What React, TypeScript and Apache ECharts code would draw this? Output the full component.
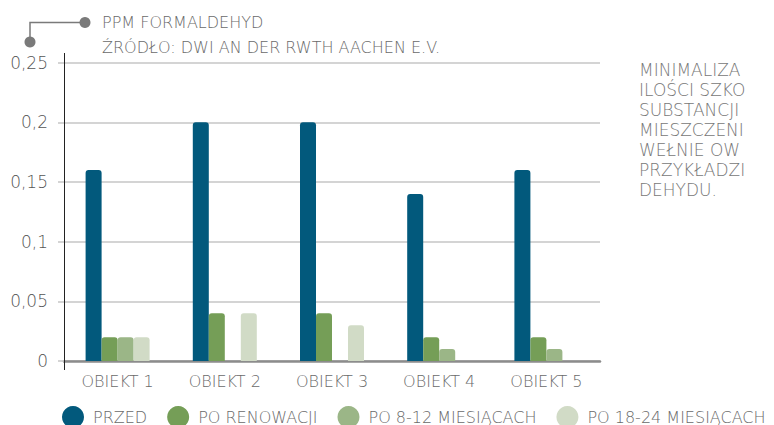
import React, { useEffect, useRef } from "react";
import * as echarts from "echarts";

const categories = ["OBIEKT 1", "OBIEKT 2", "OBIEKT 3", "OBIEKT 4", "OBIEKT 5"];
const seriesNames = ["PRZED", "PO RENOWACJI", "PO 8-12 MIESIĄCACH", "PO 18-24 MIESIĄCACH"];
const przed = [0.16, 0.2, 0.2, 0.14, 0.16];
const poRenowacji = [0.02, 0.04, 0.04, 0.02, 0.02];
const po812 = [0.02, null, null, 0.01, 0.01];
const po1824 = [0.02, 0.04, 0.03, null, null];
const yTickLabels = ["0", "0,05", "0,1", "0,15", "0,2", "0,25"];
const titleLines = ["PPM FORMALDEHYD", "ŹRÓDŁO: DWI AN DER RWTH AACHEN E.V."];
const sideTextLines = [
  "MINIMALIZA",
  "ILOŚCI SZKO",
  "SUBSTANCJI",
  "MIESZCZENI",
  "WEŁNIE OW",
  "PRZYKŁADZI",
  "DEHYDU.",
];

const colors = ["#02597c", "#759e57", "#9bb687", "#d1dbc6"];
const FONT = "'DejaVu Sans', sans-serif";
const W = 300;
const TXT = "#6a6a6a";

const GRID_LEFT = 64;
const GRID_RIGHT_X = 600;
const GRID_TOP = 62.7;
const GRID_BOTTOM_Y = 361;

export default function App() {
  const ref = useRef<HTMLDivElement>(null);
  useEffect(() => {
    if (!ref.current) return;
    const chart = echarts.init(ref.current, undefined, { renderer: "svg" });
    const data = [przed, poRenowacji, po812, po1824];
    chart.setOption({
      animation: false,
      grid: {
        left: GRID_LEFT,
        right: 774 - GRID_RIGHT_X,
        top: GRID_TOP,
        bottom: 425 - GRID_BOTTOM_Y,
        containLabel: false,
      },
      legend: {
        left: 57,
        top: 401,
        icon: "circle",
        itemWidth: 22,
        itemHeight: 22,
        itemGap: 20,
        data: seriesNames,
        textStyle: {
          fontFamily: FONT,
          fontWeight: W,
          fontSize: 16,
          color: TXT,
          padding: [0, 0, 0, 4],
        },
      },
      xAxis: {
        type: "category",
        data: categories,
        axisTick: { show: false },
        axisLine: { show: true, lineStyle: { color: "#8c8c8c", width: 2.5 } },
        axisLabel: {
          margin: 12,
          fontFamily: FONT,
          fontWeight: W,
          fontSize: 16,
          color: TXT,
        },
      },
      yAxis: {
        type: "value",
        min: 0,
        max: 0.25,
        interval: 0.05,
        axisLine: { show: false },
        axisTick: {
          show: true,
          length: 6,
          lineStyle: { color: "#c6c6c6", width: 1.5 },
        },
        splitLine: { show: true, lineStyle: { color: "#c6c6c6", width: 1.5 } },
        axisLabel: {
          margin: 16,
          fontFamily: FONT,
          fontWeight: W,
          fontSize: 17,
          color: "#555",
          formatter: (_v: number, i: number) => yTickLabels[i],
        },
      },
      series: seriesNames.map((name, i) => ({
        name,
        type: "bar",
        data: data[i],
        barWidth: 16,
        barGap: "0%",
        itemStyle: { color: colors[i], borderRadius: [3, 3, 0, 0] },
      })),
      color: colors,
      graphic: [
        {
          type: "line",
          shape: { x1: GRID_LEFT + 0.5, y1: 53, x2: GRID_LEFT + 0.5, y2: 370 },
          style: { stroke: "#222", lineWidth: 1 },
          z: 10,
        },
        {
          type: "polyline",
          shape: { points: [[30, 42], [30, 22.5], [85, 22.5]] },
          style: { stroke: "#7a7a7a", lineWidth: 1.5, fill: "none" },
        },
        { type: "circle", shape: { cx: 30, cy: 42, r: 5.5 }, style: { fill: "#7a7a7a" } },
        { type: "circle", shape: { cx: 85, cy: 22.5, r: 5.5 }, style: { fill: "#7a7a7a" } },
        {
          type: "text",
          x: 102,
          y: 22,
          style: {
            text: titleLines[0],
            fontFamily: FONT,
            fontWeight: W,
            fontSize: 16,
            fill: TXT,
            verticalAlign: "middle",
          },
        },
        {
          type: "text",
          x: 102,
          y: 47,
          style: {
            text: titleLines[1],
            fontFamily: FONT,
            fontWeight: W,
            fontSize: 16,
            fill: TXT,
            verticalAlign: "middle",
          },
        },
        {
          type: "text",
          x: 639,
          y: 60,
          style: {
            text: sideTextLines.join("\n"),
            fontFamily: FONT,
            fontWeight: W,
            fontSize: 17,
            lineHeight: 20,
            fill: "#777",
            verticalAlign: "top",
          },
        },
      ],
    });
    return () => chart.dispose();
  }, []);
  return (
    <div
      ref={ref}
      style={{ position: "absolute", left: 0, top: 0, width: 774, height: 425 }}
    />
  );
}
